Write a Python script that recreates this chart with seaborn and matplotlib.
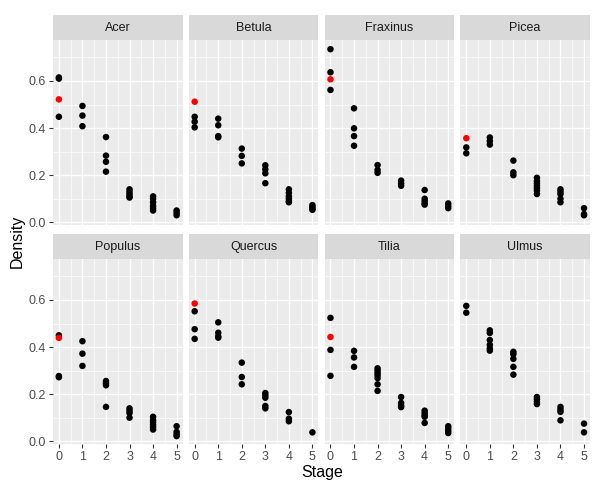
import numpy as np
import pandas as pd
import matplotlib
matplotlib.use("Agg")
import matplotlib.pyplot as plt
import seaborn as sns

# ---- data (density values per stage 0..5) ----
species = ["Acer", "Betula", "Fraxinus", "Picea", "Populus", "Quercus", "Tilia", "Ulmus"]
stages = [0, 1, 2, 3, 4, 5]

acer = [[0.615, 0.61, 0.448], [0.494, 0.453, 0.408], [0.362, 0.283, 0.257, 0.215],
        [0.14, 0.13, 0.12, 0.11, 0.105], [0.11, 0.10, 0.085, 0.07, 0.06, 0.05], [0.05, 0.04, 0.03]]
betula = [[0.448, 0.427, 0.403], [0.44, 0.412, 0.366, 0.361], [0.313, 0.282, 0.25],
          [0.242, 0.225, 0.208, 0.166], [0.14, 0.125, 0.11, 0.10, 0.09, 0.085], [0.073, 0.065, 0.058, 0.053]]
fraxinus = [[0.735, 0.637, 0.562], [0.484, 0.399, 0.366, 0.325], [0.243, 0.222, 0.21],
            [0.177, 0.165, 0.155], [0.137, 0.10, 0.09, 0.08, 0.075], [0.08, 0.07, 0.06]]
picea = [[0.318, 0.293], [0.36, 0.345, 0.33], [0.262, 0.212, 0.2],
         [0.189, 0.175, 0.165, 0.155, 0.145, 0.135, 0.12], [0.14, 0.13, 0.12, 0.10, 0.085], [0.06, 0.035, 0.03]]
populus = [[0.45, 0.277, 0.272], [0.425, 0.372, 0.32], [0.256, 0.247, 0.238, 0.146],
           [0.14, 0.13, 0.12, 0.10], [0.104, 0.09, 0.08, 0.07, 0.06, 0.05], [0.064, 0.04, 0.03, 0.022]]
quercus = [[0.552, 0.476, 0.435], [0.505, 0.461, 0.445, 0.44], [0.334, 0.273, 0.242],
           [0.205, 0.195, 0.185, 0.15, 0.14], [0.124, 0.096, 0.085], [0.038]]
tilia = [[0.524, 0.388, 0.278], [0.384, 0.356, 0.316], [0.31, 0.30, 0.29, 0.28, 0.268, 0.242, 0.214],
         [0.188, 0.163, 0.152, 0.145], [0.13, 0.12, 0.11, 0.104, 0.078], [0.064, 0.055, 0.045, 0.035]]
ulmus = [[0.575, 0.546], [0.471, 0.46, 0.43, 0.41, 0.395, 0.385], [0.38, 0.37, 0.35, 0.316, 0.283],
         [0.188, 0.178, 0.168, 0.158], [0.146, 0.135, 0.125, 0.089], [0.075, 0.038]]

# highlighted (red) stage-0 values
red_density = [0.522, 0.512, 0.607, 0.357, 0.439, 0.585, 0.443, None]

y_ticks = [0.0, 0.2, 0.4, 0.6]
y_tick_labels = ["0.0", "0.2", "0.4", "0.6"]

# ---- build long table ----
series = [acer, betula, fraxinus, picea, populus, quercus, tilia, ulmus]
rows = []
for sp, vals in zip(species, series):
    for st, dens in zip(stages, vals):
        for d in dens:
            rows.append({"Species": sp, "Stage": st, "Density": d, "Group": "obs"})
for sp, r in zip(species, red_density):
    if r is not None:
        rows.append({"Species": sp, "Stage": 0, "Density": r, "Group": "ref"})
df = pd.DataFrame(rows)

# ---- figure ----
sns.set_style("white")
plt.rcParams["font.family"] = ["Liberation Sans", "DejaVu Sans"]
W, H = 592, 482
fig = plt.figure(figsize=(W / 100, H / 100), dpi=100)

left0, pw, gap = 53, 129.5, 6.3
row_tops = [40, 259]
ph = 185
strip_h = 25

palette = {"obs": "black", "ref": "red"}
for i, sp in enumerate(species):
    r, c = divmod(i, 4)
    x0 = left0 + c * (pw + gap)
    y_top = row_tops[r]
    ax = fig.add_axes([x0 / W, 1 - (y_top + ph) / H, pw / W, ph / H])
    ax.set_facecolor("#EBEBEB")
    sub = df[df.Species == sp]
    sns.scatterplot(data=sub, x="Stage", y="Density", hue="Group", palette=palette,
                    hue_order=["obs", "ref"], legend=False, s=22, linewidth=0, ax=ax, zorder=3)
    ax.set_xlim(-0.25, 5.25)
    ax.set_ylim(-0.0115, 0.774)
    ax.set_xticks(stages)
    ax.set_xticks([0.5, 1.5, 2.5, 3.5, 4.5], minor=True)
    ax.set_yticks(y_ticks)
    ax.set_yticks([0.1, 0.3, 0.5, 0.7], minor=True)
    ax.grid(which="major", color="white", linewidth=1.0, zorder=0)
    ax.grid(which="minor", color="white", linewidth=0.5, zorder=0)
    ax.set_axisbelow(True)
    for s in ax.spines.values():
        s.set_visible(False)
    ax.tick_params(which="major", length=3, width=0.8, color="#333333",
                   labelcolor="#4D4D4D", labelsize=9, pad=2)
    ax.tick_params(which="minor", length=0)
    ax.set_xlabel("")
    ax.set_ylabel("")
    if c == 0:
        ax.set_yticklabels(y_tick_labels)
        ax.tick_params(axis="y", left=True)
    else:
        ax.tick_params(axis="y", left=False, labelleft=False)
    if r == 1:
        ax.tick_params(axis="x", bottom=True)
    else:
        ax.tick_params(axis="x", bottom=False, labelbottom=False)
    # strip
    sax = fig.add_axes([x0 / W, 1 - (y_top) / H, pw / W, strip_h / H])
    sax.set_facecolor("#D9D9D9")
    sax.set_xticks([]); sax.set_yticks([])
    for s in sax.spines.values():
        s.set_visible(False)
    sax.text(0.5, 0.48, sp, ha="center", va="center", fontsize=9, color="#1A1A1A",
             transform=sax.transAxes)

fig.text(322 / W, 1 - 480.5 / H, "Stage", ha="center", va="bottom", fontsize=11.5, color="black")
fig.text(17 / W, 1 - 241 / H, "Density", ha="center", va="center", rotation=90,
         fontsize=11.5, color="black")

fig.savefig("out.png", dpi=100)
